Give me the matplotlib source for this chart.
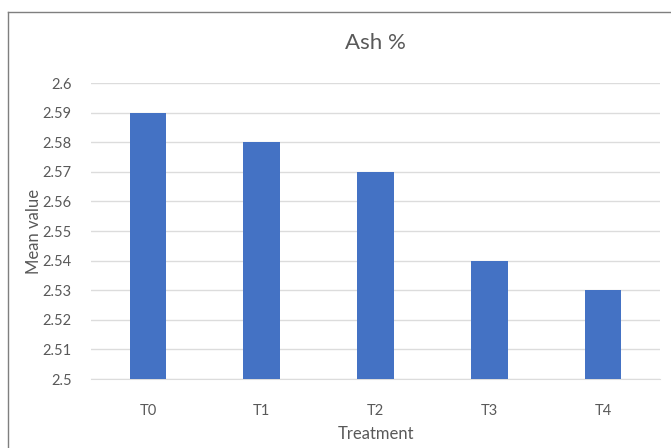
import matplotlib
matplotlib.use("Agg")
import matplotlib.pyplot as plt
from matplotlib.lines import Line2D
import numpy as np

categories = ["T0", "T1", "T2", "T3", "T4"]
values = [2.59, 2.58, 2.57, 2.54, 2.53]
yticks = [2.5, 2.51, 2.52, 2.53, 2.54, 2.55, 2.56, 2.57, 2.58, 2.59, 2.6]

plt.rcParams['font.family'] = ['Lato', 'DejaVu Sans']
W, H = 671, 448
fig = plt.figure(figsize=(W/100, H/100), dpi=100)
ax = fig.add_axes([91/W, 1-379/H, (660-91)/W, (379-83)/H])

txt = '#595959'
x = np.arange(len(categories))
ax.bar(x, values, width=0.32, color='#4472c4', zorder=3)
ax.set_xlim(-0.5, len(categories)-0.5)
ax.set_ylim(2.5, 2.6)
ax.set_yticks(yticks)
ax.set_yticklabels([f"{v:g}" for v in yticks])
ax.set_xticks(x)
ax.set_xticklabels(categories)
ax.tick_params(axis='both', length=0, colors=txt, labelsize=10.5)
ax.tick_params(axis='x', pad=18)
ax.tick_params(axis='y', pad=14)
ax.grid(axis='y', color='#dcdcdc', linewidth=1, zorder=0)
for s in ['top', 'right', 'left']:
    ax.spines[s].set_visible(False)
ax.spines['bottom'].set_color('#dcdcdc')
ax.set_xlabel("Treatment", color=txt, fontsize=12, labelpad=6)
ax.set_ylabel("Mean value", color=txt, fontsize=12, labelpad=0)
fig.text(375/W, 1-43/H, "Ash %", ha='center', va='center', color=txt, fontsize=16)

fig.add_artist(Line2D([7.5/W, 7.5/W], [0, 1-12/H], transform=fig.transFigure, color='#7f7f7f', lw=1))
fig.add_artist(Line2D([7.5/W, 1], [1-12.5/H, 1-12.5/H], transform=fig.transFigure, color='#7f7f7f', lw=1))

fig.savefig("out.png", dpi=100)
